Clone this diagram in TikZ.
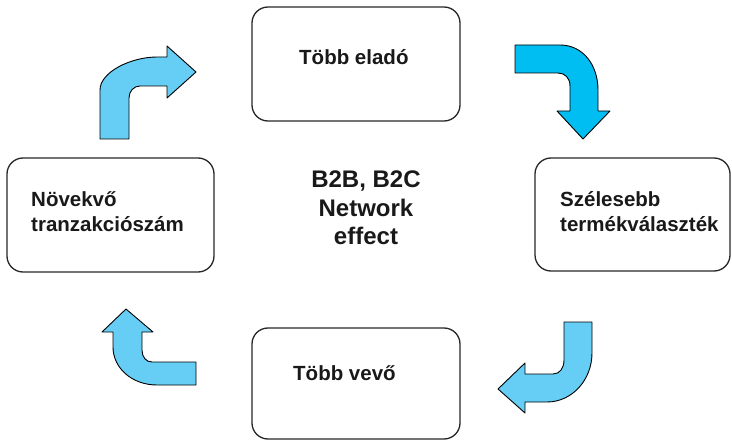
\documentclass[tikz,border=0pt]{standalone}
\usepackage{fontspec}
\setmainfont{Liberation Sans}
\definecolor{arrowlight}{RGB}{102,206,245}
\definecolor{arrowdark}{RGB}{0,189,242}
\begin{document}
\begin{tikzpicture}[x=1pt,y=-1pt,
    box/.style={draw=black!85, line width=1.3pt, rounded corners=16pt, inner sep=0pt},
    lbl/.style={font=\bfseries\fontsize{20.5}{25}\selectfont, inner sep=0pt, align=left, text=black!90},
    bentarrow/.style={draw=black, line width=0.9pt, line join=round}]
    \useasboundingbox (0,0) rectangle (732,441);
    % the four boxes
    \node [box, minimum width=208pt, minimum height=114pt] (elado) at (356,64) {};
    \node [box, minimum width=195pt, minimum height=113pt] (valaszt) at (632.5,214.5) {};
    \node [box, minimum width=208pt, minimum height=111pt] (vevo) at (356,383.5) {};
    \node [box, minimum width=207pt, minimum height=114pt] (tranz) at (110.5,215) {};
    % texts (base = last line)
    \node [lbl, anchor=base west] (eladotxt) at (299,65) {Több eladó};
    \node [lbl, anchor=base west] (valaszttxt) at (560,232) {Szélesebb\\termékválaszték};
    \node [lbl, anchor=base west] (vevotxt) at (293,381) {Több vevő};
    \node [lbl, anchor=base west] (tranztxt) at (31,232) {Növekvő\\tranzakciószám};
    \node [lbl, font=\bfseries\fontsize{24}{28.5}\selectfont, align=center] (effect) at (366,208) {B2B, B2C\\Network\\effect};
    % bent arrows
    \filldraw [bentarrow, fill=arrowlight] (100,139) -- (100,90) .. controls (100,72) and (131,57) .. (157,57)
        -- (167,57) -- (167,46) -- (196,72) -- (167,98) -- (167,86) -- (140,86)
        .. controls (134,86) and (129,91) .. (129,98) -- (129,139) -- cycle;
    \filldraw [bentarrow, fill=arrowdark] (515,45) -- (560,45) .. controls (583,45) and (598,65) .. (598,90)
        -- (598,111) -- (610,111) -- (583,139) -- (557,111) -- (570,111) -- (570,86)
        .. controls (570,78) and (565,73) .. (558,73) -- (515,73) -- cycle;
    \filldraw [bentarrow, fill=arrowlight] (564,322) -- (592,322) -- (592,353) .. controls (592,380) and (572,402) .. (547,402)
        -- (525,402) -- (525,413) -- (498,389) -- (525,363) -- (525,374) -- (553,374)
        .. controls (560,374) and (564,368) .. (564,360) -- cycle;
    \filldraw [bentarrow, fill=arrowlight] (196,362) -- (196,385) -- (157,385) .. controls (132,385) and (113,368) .. (113,347)
        -- (113,332) -- (102,332) -- (126,309) -- (153,332) -- (142,332) -- (142,350)
        .. controls (142,357) and (146,362) .. (152,362) -- cycle;
\end{tikzpicture}
\end{document}
